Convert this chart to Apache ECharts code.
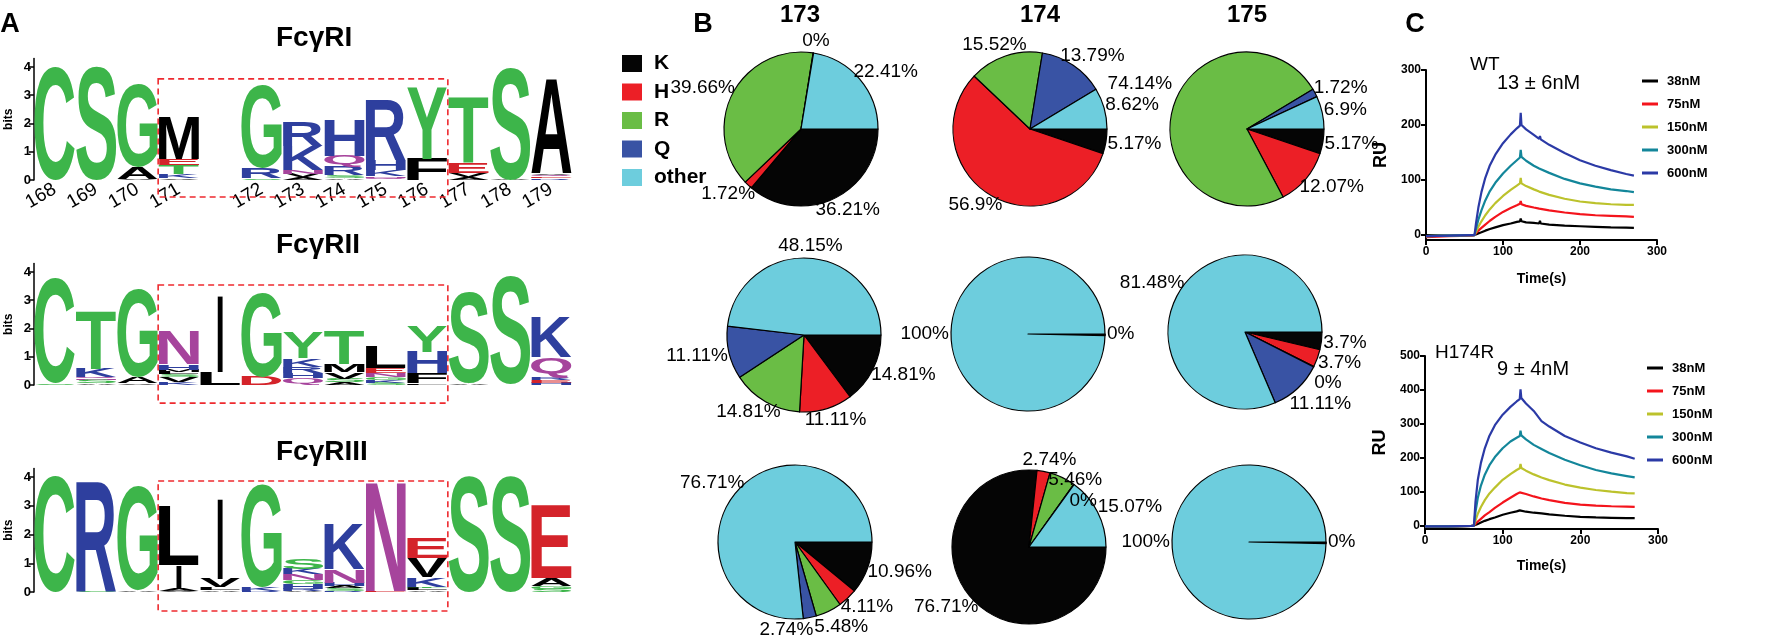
<!DOCTYPE html>
<html>
<head>
<meta charset="utf-8">
<script src="https://cdn.jsdelivr.net/npm/echarts@6/dist/echarts.min.js"></script>
<style>
html, body { margin: 0; padding: 0; background: #fff; }
#chart { width: 1769px; height: 644px; }
</style>
</head>
<body>
<div id="chart"></div>
<script>
const FONT = 'Liberation Sans';

// ---------- A: sequence logos (letters listed bottom -> top, height in bits) ----------
const logoCols = ['168', '169', '170', '171', '', '172', '173', '174', '175', '176', '177', '178', '179'];
const boxFirst = '171';
const boxLast = '176';
const logoTitles = ['FcγRI', 'FcγRII', 'FcγRIII'];

const logoFcRI = [
    [['C', 4.02]],
    [['S', 4.0]],
    [['V', 0.05], ['A', 0.41], ['G', 2.94]],
    [['V', 0.06], ['K', 0.14], ['T', 0.32], ['E', 0.24], ['M', 1.52]],
    [],
    [['S', 0.06], ['R', 0.36], ['G', 2.94]],
    [['A', 0.1], ['V', 0.12], ['N', 0.12], ['K', 0.85], ['R', 0.87]],
    [['A', 0.06], ['S', 0.1], ['R', 0.3], ['Q', 0.4], ['H', 1.3]],
    [['Q', 0.08], ['N', 0.06], ['K', 0.22], ['H', 0.34], ['R', 2.12]],
    [['F', 0.76], ['Y', 2.53]],
    [['A', 0.1], ['V', 0.14], ['E', 0.35], ['T', 2.35]],
    [['A', 0.03], ['S', 3.95]],
    [['R', 0.06], ['E', 0.06], ['Q', 0.06], ['V', 0.06], ['A', 3.35]]
];
const logoFcRII = [
    [['S', 0.04], ['C', 3.72]],
    [['A', 0.06], ['S', 0.12], ['N', 0.05], ['Q', 0.05], ['K', 0.3], ['T', 2.06]],
    [['V', 0.06], ['A', 0.23], ['G', 3.12]],
    [['K', 0.1], ['V', 0.18], ['S', 0.1], ['L', 0.08], ['M', 0.07], ['H', 0.2], ['N', 1.2]],
    [['L', 0.47], ['I', 2.71]],
    [['D', 0.29], ['G', 3.0]],
    [['Q', 0.24], ['H', 0.17], ['R', 0.24], ['K', 0.29], ['Y', 0.88]],
    [['A', 0.1], ['S', 0.12], ['V', 0.24], ['M', 0.29], ['T', 1.19]],
    [['S', 0.08], ['K', 0.1], ['G', 0.11], ['N', 0.12], ['E', 0.18], ['L', 0.76]],
    [['L', 0.06], ['F', 0.35], ['H', 0.77], ['Y', 0.88]],
    [['A', 0.06], ['S', 3.23]],
    [['S', 3.82]],
    [['H', 0.08], ['E', 0.1], ['R', 0.1], ['Q', 0.7], ['K', 1.42]]
];
const logoFcRIII = [
    [['C', 4.05]],
    [['S', 0.04], ['R', 3.78]],
    [['A', 0.04], ['G', 3.6]],
    [['V', 0.05], ['A', 0.07], ['I', 0.81], ['L', 2.04]],
    [['A', 0.06], ['L', 0.1], ['V', 0.3], ['I', 2.8]],
    [['R', 0.05], ['K', 0.12], ['G', 3.56]],
    [['A', 0.05], ['R', 0.07], ['H', 0.17], ['G', 0.12], ['N', 0.2], ['K', 0.2], ['S', 0.36]],
    [['R', 0.05], ['S', 0.08], ['A', 0.08], ['H', 0.12], ['N', 0.46], ['K', 1.6]],
    [['E', 0.03], ['N', 3.8]],
    [['A', 0.06], ['L', 0.08], ['T', 0.05], ['K', 0.32], ['V', 0.66], ['E', 0.7]],
    [['S', 4.05]],
    [['S', 4.05]],
    [['S', 0.12], ['G', 0.1], ['A', 0.25], ['E', 2.54]]
];

// ---------- B: residue frequencies at 173/174/175 (K, H, R, Q, other; %) ----------
const pieNames = ['K', 'H', 'R', 'Q', 'other'];
const pieColors = ['#050505', '#ec1f26', '#6abd45', '#3953a4', '#6dcddd'];
const pieColumns = ['173', '174', '175'];
const pieFcRI = [[36.21, 1.72, 39.66, 0, 22.41], [5.17, 56.9, 15.52, 13.79, 8.62], [5.17, 12.07, 74.14, 1.72, 6.9]];
const pieFcRII = [[14.81, 11.11, 14.81, 11.11, 48.15], [0, 0, 0, 0, 100], [3.7, 3.7, 0, 11.11, 81.48]];
const pieFcRIII = [[10.96, 4.11, 5.48, 2.74, 76.71], [76.71, 2.74, 5.46, 0, 15.07], [0, 0, 0, 0, 100]];

// ---------- C: SPR sensorgrams (RU) ----------
const concNames = ['38nM', '75nM', '150nM', '300nM', '600nM'];
const concColors = ['#000000', '#f4141c', '#bcc22c', '#13869a', '#2b3aa6'];

const timeWT = [0, 30, 60, 63, 65, 68, 72, 77, 83, 90, 100, 110, 118, 122, 123, 124, 130, 140, 147, 148, 149, 160, 180, 200, 220, 240, 260, 270];
const wt38 = [0, -1, 0, 0, 1, 3, 5, 8, 11, 14, 18, 21, 24, 25, 30, 25, 23, 22, 21, 26, 21, 19, 17, 16, 15, 14, 13.5, 13];
const wt75 = [-4, -2, -1, 0, 3, 8, 13, 19, 26, 33, 42, 49, 54, 57, 62, 56, 53, 50, 48, 51, 48, 45, 41, 38, 36, 35, 34, 33];
const wt150 = [-2, -1, 0, 0, 6, 15, 25, 36, 47, 58, 71, 82, 90, 94, 104, 94, 89, 83, 79, 82, 78, 73, 66, 61, 58, 56, 55, 55];
const wt300 = [-2, -1, 0, 0, 12, 28, 45, 63, 80, 95, 112, 126, 136, 141, 155, 142, 135, 126, 121, 124, 120, 113, 102, 94, 88, 83, 80, 78];
const wt600 = [-2, -1, 0, 0, 22, 50, 78, 104, 127, 146, 167, 183, 194, 199, 222, 200, 192, 182, 175, 180, 174, 164, 149, 136, 126, 118, 111, 108];

const timeMut = [0, 30, 60, 63, 65, 68, 72, 77, 83, 90, 100, 110, 118, 122, 123, 124, 130, 140, 150, 160, 180, 200, 220, 240, 260, 270];
const mut38 = [-3, -2, -1, 0, 2, 5, 9, 14, 19, 24, 32, 38, 42, 45, 47, 44, 41, 38, 36, 33, 29, 26, 24, 23, 22, 22];
const mut75 = [-3, -2, -1, 0, 5, 12, 20, 30, 40, 52, 68, 82, 93, 98, 103, 98, 93, 86, 80, 75, 67, 62, 59, 57, 56, 55];
const mut150 = [-2, -2, -1, 0, 15, 35, 55, 75, 95, 112, 135, 152, 164, 169, 182, 170, 162, 151, 142, 134, 121, 112, 105, 100, 96, 95];
const mut300 = [-2, -2, -1, 0, 40, 82, 118, 150, 178, 202, 228, 248, 259, 264, 280, 266, 254, 238, 226, 214, 194, 178, 164, 154, 146, 142];
const mut600 = [-2, -2, -1, 0, 70, 135, 185, 228, 265, 296, 327, 350, 366, 373, 402, 376, 360, 338, 308, 292, 264, 245, 228, 215, 204, 197];

const letterColor = {
    G: '#3db54a', S: '#3db54a', T: '#3db54a', Y: '#3db54a', C: '#3db54a',
    N: '#a6449c', Q: '#a6449c',
    K: '#2e3f9e', R: '#2e3f9e', H: '#2e3f9e',
    D: '#d4232a', E: '#d4232a',
    A: '#000', V: '#000', L: '#000', I: '#000', M: '#000', F: '#000'
};

// glyph boxes, so a letter can be stretched to fill its slot
const glyphCtx = document.createElement('canvas').getContext('2d');
glyphCtx.font = 'bold 100px "' + FONT + '"';
glyphCtx.textBaseline = 'middle';
glyphCtx.textAlign = 'left';
const glyphCache = {};
function glyph(ch) {
    if (!glyphCache[ch]) {
        const m = glyphCtx.measureText(ch);
        glyphCache[ch] = { l: m.actualBoundingBoxLeft, r: m.actualBoundingBoxRight, a: m.actualBoundingBoxAscent, d: m.actualBoundingBoxDescent };
    }
    return glyphCache[ch];
}

const logoGrids = [
    { left: 34, top: 58.5, width: 538, height: 121.5 },
    { left: 34, top: 263.5, width: 538, height: 121.5 },
    { left: 34, top: 468.4, width: 538, height: 123.6 }
];
const boxBits = [[-0.6, 3.58], [-0.64, 3.54], [-0.66, 3.86]];

function logoSeries(row, cols) {
    const items = [];
    cols.forEach((stack, c) => {
        let y = 0;
        stack.forEach(([ch, h]) => {
            items.push({ c: c, y0: y, y1: y + h, ch: ch });
            y += h;
        });
    });
    return {
        type: 'custom',
        xAxisIndex: row,
        yAxisIndex: row,
        clip: false,
        silent: true,
        animation: false,
        data: items.map(it => [it.c, it.y0, it.y1]),
        encode: { x: 0, y: [1, 2] },
        renderItem: function (params, api) {
            const it = items[params.dataIndex];
            const p0 = api.coord([it.c, it.y0]);
            const p1 = api.coord([it.c, it.y1]);
            const bw = api.size([1, 0])[0];
            const g = glyph(it.ch);
            const w = it.ch === 'I' ? bw * 0.13 : bw - 1;
            const h = Math.max(p0[1] - p1[1], 0.3);
            const sx = w / (g.l + g.r);
            const sy = h / (g.a + g.d);
            return {
                type: 'text',
                x: p0[0] - w / 2 + sx * g.l,
                y: p1[1] + sy * g.a,
                scaleX: sx,
                scaleY: sy,
                style: {
                    text: it.ch, fontFamily: FONT, fontWeight: 'bold', fontSize: 100,
                    fill: letterColor[it.ch], align: 'left', verticalAlign: 'middle'
                }
            };
        }
    };
}

function boxSeries(row) {
    const bits = boxBits[row];
    return {
        type: 'custom',
        xAxisIndex: row,
        yAxisIndex: row,
        clip: false,
        silent: true,
        animation: false,
        data: [[logoCols.indexOf(boxFirst), logoCols.indexOf(boxLast)]],
        renderItem: function (params, api) {
            const bw = api.size([1, 0])[0];
            const a = api.coord([api.value(0), bits[1]]);
            const b = api.coord([api.value(1), bits[0]]);
            return {
                type: 'rect',
                shape: { x: a[0] - bw / 2, y: a[1], width: b[0] - a[0] + bw, height: b[1] - a[1] },
                style: { fill: 'none', stroke: '#ee2a2f', lineWidth: 1.6, lineDash: [6, 4] }
            };
        }
    };
}

// ---------- pies ----------
const PIE_R = 77;
const LABEL_H = 20;
const pieCenters = [
    [[801, 129], [1030, 129], [1247, 129]],
    [[804, 335], [1028, 334], [1245, 332]],
    [[795, 542], [1029, 547], [1249, 542]]
];
const labelCtx = document.createElement('canvas').getContext('2d');
labelCtx.font = '19px "' + FONT + '"';

// every percentage label already placed (all pies), so later ones can step aside
const placedLabels = [];
function hits(b) {
    return placedLabels.some(o => Math.abs(b.x - o.x) < (b.w + o.w) / 2 && Math.abs(b.y - o.y) < (b.h + o.h) / 2);
}
function placeLabel(b, dx, dy) {
    if (!hits(b)) { placedLabels.push(b); return b; }
    const v = dy < 0 ? -1 : 1, hz = dx < 0 ? -1 : 1;
    const dirs = [[0, v], [0, -v], [hz, 0], [-hz, 0]];
    for (let s = 1; s <= 80; s++) {
        for (const d of dirs) {
            const c = { x: b.x + d[0] * s, y: b.y + d[1] * s, w: b.w, h: b.h };
            if (c.y + c.h / 2 > 644 || c.y - c.h / 2 < 0) continue;
            if (!hits(c)) { placedLabels.push(c); return c; }
        }
    }
    placedLabels.push(b);
    return b;
}

function pieLabelBoxes(cx, cy, vals) {
    const total = vals.reduce((s, v) => s + v, 0);
    let acc = 0;
    let zeroSeen = false;
    return vals.map(v => {
        const mid = (acc + v / 2) / total * 2 * Math.PI;
        acc += v;
        if (v === 0) {
            if (zeroSeen) return null;
            zeroSeen = true;
        }
        const w = labelCtx.measureText(v + '%').width;
        const dx = Math.cos(mid), dy = Math.sin(mid);
        const b = {
            x: cx + (PIE_R + 2) * dx + w / 2 * dx,
            y: cy + (PIE_R + 2) * dy + LABEL_H / 2 * dy,
            w: w, h: LABEL_H
        };
        return placeLabel(b, dx, dy);
    });
}

function pieSeries(vals, center) {
    const boxes = pieLabelBoxes(center[0], center[1], vals);
    return {
        type: 'pie',
        center: center,
        radius: PIE_R,
        startAngle: 0,
        clockwise: true,
        minAngle: 0.3,
        avoidLabelOverlap: false,
        animation: false,
        silent: true,
        itemStyle: { borderColor: '#000', borderWidth: 1.2 },
        label: {
            show: true, position: 'outside', color: '#000', fontSize: 19, fontFamily: FONT,
            formatter: p => p.value + '%'
        },
        labelLine: { show: false },
        labelLayout: function (params) {
            const b = boxes[params.dataIndex];
            return b ? { x: b.x, y: b.y, align: 'center', verticalAlign: 'middle' } : {};
        },
        data: vals.map((v, i) => ({
            name: pieNames[i], value: v,
            itemStyle: { color: pieColors[i] },
            label: { show: boxes[i] !== null }
        }))
    };
}

// ---------- SPR ----------
const sprGrids = [
    { left: 1426, top: 70, width: 231, height: 170 },
    { left: 1425, top: 356, width: 233, height: 173 }
];
const sprSets = [
    { times: timeWT, curves: [wt38, wt75, wt150, wt300, wt600], min: -9, max: 300 },
    { times: timeMut, curves: [mut38, mut75, mut150, mut300, mut600], min: -10, max: 500 }
];
const sprTicks = [[0, 100, 200, 300], [0, 100, 200, 300, 400, 500]];

function getOption() {
    const grids = [];
    const xAxes = [];
    const yAxes = [];
    const series = [];

    logoGrids.forEach((g, row) => {
        grids.push(Object.assign({ outerBoundsMode: 'none', containLabel: false }, g));
        xAxes.push({
            type: 'category', gridIndex: row, data: logoCols, boundaryGap: true,
            axisLine: { show: false }, axisTick: { show: false }, splitLine: { show: false },
            axisLabel: {
                show: row === 0, interval: 0, rotate: 30, margin: 8,
                fontSize: 19, fontFamily: FONT, color: '#000'
            }
        });
        yAxes.push({
            type: 'value', gridIndex: row, min: 0, max: 4.3,
            name: 'bits', nameLocation: 'middle', nameGap: 19, nameRotate: 90,
            nameTextStyle: { fontSize: 12, fontWeight: 'bold', fontFamily: FONT, color: '#000' },
            axisLine: { show: true, lineStyle: { color: '#000', width: 1.5 } },
            axisTick: { show: true, length: 5, customValues: [0, 1, 2, 3, 4], lineStyle: { color: '#000', width: 1.5 } },
            axisLabel: { customValues: [0, 1, 2, 3, 4], margin: 3, fontSize: 13, fontWeight: 'bold', fontFamily: FONT, color: '#000' },
            splitLine: { show: false }
        });
    });
    series.push(logoSeries(0, logoFcRI), logoSeries(1, logoFcRII), logoSeries(2, logoFcRIII));
    series.push(boxSeries(0), boxSeries(1), boxSeries(2));

    sprGrids.forEach((g, k) => {
        const idx = logoGrids.length + k;
        const set = sprSets[k];
        grids.push(Object.assign({ outerBoundsMode: 'none', containLabel: false }, g));
        xAxes.push({
            type: 'value', gridIndex: idx, min: 0, max: 300, interval: 100,
            name: 'Time(s)', nameLocation: 'middle', nameGap: k === 0 ? 32 : 30,
            nameTextStyle: { fontSize: 14, fontWeight: 'bold', fontFamily: FONT, color: '#000' },
            axisLine: { onZero: false, lineStyle: { color: '#000', width: 2 } },
            axisTick: { length: 5, lineStyle: { color: '#000', width: 2 } },
            axisLabel: { margin: 6, fontSize: 12, fontWeight: 'bold', fontFamily: FONT, color: '#000' },
            splitLine: { show: false }
        });
        yAxes.push({
            type: 'value', gridIndex: idx, min: set.min, max: set.max,
            name: 'RU', nameLocation: 'middle', nameGap: 36, nameRotate: 90,
            nameTextStyle: { fontSize: 18, fontWeight: 'bold', fontFamily: FONT, color: '#000' },
            axisLine: { show: true, onZero: false, lineStyle: { color: '#000', width: 2 } },
            axisTick: { show: true, length: 5, customValues: sprTicks[k], lineStyle: { color: '#000', width: 2 } },
            axisLabel: { customValues: sprTicks[k], margin: 5, fontSize: 12, fontWeight: 'bold', fontFamily: FONT, color: '#000' },
            splitLine: { show: false }
        });
        set.curves.forEach((vals, c) => {
            series.push({
                type: 'line', name: concNames[c], xAxisIndex: idx, yAxisIndex: idx,
                data: set.times.map((t, i) => [t, vals[i]]),
                showSymbol: false, symbol: 'none', clip: false, animation: false, silent: true,
                color: concColors[c],
                lineStyle: { color: concColors[c], width: 2.2 }
            });
        });
    });

    [pieFcRI, pieFcRII, pieFcRIII].forEach((rowVals, r) => {
        rowVals.forEach((vals, c) => series.push(pieSeries(vals, pieCenters[r][c])));
    });

    const texts = [
        { t: 'A', x: 10, y: 25, font: 'bold 27px', align: 'center' },
        { t: 'B', x: 703, y: 25, font: 'bold 27px', align: 'center' },
        { t: 'C', x: 1415, y: 25, font: 'bold 27px', align: 'center' },
        { t: logoTitles[0], x: 276, y: 38, font: 'bold 28px', align: 'left' },
        { t: logoTitles[1], x: 276, y: 245, font: 'bold 28px', align: 'left' },
        { t: logoTitles[2], x: 276, y: 452, font: 'bold 28px', align: 'left' },
        { t: pieColumns[0], x: 800, y: 15, font: 'bold 24px', align: 'center' },
        { t: pieColumns[1], x: 1040, y: 15, font: 'bold 24px', align: 'center' },
        { t: pieColumns[2], x: 1247, y: 15, font: 'bold 24px', align: 'center' },
        { t: 'WT', x: 1470, y: 65, font: '19px', align: 'left' },
        { t: '13 ± 6nM', x: 1497, y: 83, font: '20px', align: 'left' },
        { t: 'H174R', x: 1435, y: 353, font: '19px', align: 'left' },
        { t: '9 ± 4nM', x: 1497, y: 369, font: '20px', align: 'left' }
    ];

    const lineLegend = (top, left) => ({
        data: concNames, orient: 'vertical', left: left, top: top, padding: 0,
        icon: 'rect', itemWidth: 16, itemHeight: 3, itemGap: 9, selectedMode: false,
        textStyle: { fontSize: 13, fontWeight: 'bold', fontFamily: FONT, color: '#000', lineHeight: 14, padding: [0, 0, 0, 4] }
    });

    return {
        backgroundColor: '#fff',
        animation: false,
        grid: grids,
        xAxis: xAxes,
        yAxis: yAxes,
        legend: [
            {
                data: pieNames, orient: 'vertical', left: 622, top: 53, padding: 0,
                icon: 'rect', itemWidth: 20, itemHeight: 17, itemGap: 7.5, selectedMode: false,
                itemStyle: { borderWidth: 0 },
                textStyle: { fontSize: 21, fontWeight: 'bold', fontFamily: FONT, color: '#000', lineHeight: 21, padding: [0, 0, 0, 7] }
            },
            lineLegend(74, 1642),
            lineLegend(361, 1647)
        ],
        graphic: {
            elements: texts.map(o => ({
                type: 'text', x: o.x, y: o.y, silent: true,
                style: {
                    text: o.t, font: o.font + ' "' + FONT + '"', fill: '#000',
                    align: o.align, verticalAlign: 'middle',
                    textAlign: o.align, textVerticalAlign: 'middle'
                }
            }))
        },
        series: series
    };
}

const myChart = echarts.init(document.getElementById('chart'));
myChart.setOption(getOption());
</script>
</body>
</html>
